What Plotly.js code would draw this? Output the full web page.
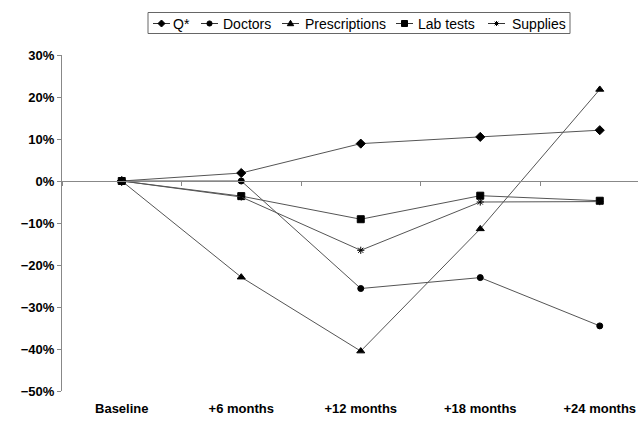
<!DOCTYPE html>
<html>
<head>
<meta charset="utf-8">
<script src="https://cdn.plot.ly/plotly-3.0.1.min.js"></script>
<style>html,body{margin:0;padding:0;background:#fff;}#chart{width:638px;height:421px;}</style>
</head>
<body>
<div id="chart"></div>
<script>
const categories = ["Baseline", "+6 months", "+12 months", "+18 months", "+24 months"];
const seriesNames = ["Q*", "Doctors", "Prescriptions", "Lab tests", "Supplies"];
const qStar = [0, 1.9, 8.9, 10.5, 12.1];
const doctors = [0, 0, -25.6, -23.0, -34.5];
const prescriptions = [0, -22.9, -40.5, -11.4, 21.8];
const labTests = [0, -3.6, -9.1, -3.5, -4.7];
const supplies = [0, -3.8, -16.5, -5.0, -4.9];
const yTickVals = [30, 20, 10, 0, -10, -20, -30, -40, -50];

const seriesValues = [qStar, doctors, prescriptions, labTests, supplies];
const symbols = ["diamond", "circle", "triangle-up", "square", "asterisk-open"];
const sizes = [7, 6, 7, 7, 6];

const traces = seriesValues.map((vals, i) => ({
  type: "scatter",
  mode: "lines+markers",
  name: seriesNames[i],
  x: categories,
  y: vals,
  showlegend: false,
  line: {color: "#555", width: 1},
  marker: {symbol: symbols[i], size: sizes[i], color: "#000", line: {color: "#000", width: 1}}
}));

// helper trace on a second x axis so its tick marks sit on the zero line
traces.push({
  type: "scatter", mode: "markers", x: categories, y: [0,0,0,0,0],
  xaxis: "x2", yaxis: "y", showlegend: false, hoverinfo: "skip",
  marker: {opacity: 0}
});

// ---- custom compact legend (Excel style) ----
const M = {l: 62, r: 0, t: 55, b: 30};
const W = 638, H = 421;
const pw = W - M.l - M.r, ph = H - M.t - M.b;
const px = x => (x - M.l) / pw;
const py = y => (H - M.b - y) / ph;

const legSymStart = [153, 201, 282, 396, 488];
const legTextStart = [173, 223, 305, 418, 512];
const legY = 23.5;
const shapes = [];
const annotations = [];
shapes.push({type: "rect", xref: "paper", yref: "paper", x0: px(148), x1: px(570), y0: py(12.5), y1: py(33.5),
  line: {color: "#666", width: 1}, fillcolor: "rgba(0,0,0,0)"});
const markerPaths = {
  "diamond": "M0,3.5 L3.5,0 L0,-3.5 L-3.5,0 Z",
  "triangle-up": "M-3.2,-2.2 L3.2,-2.2 L0,3.2 Z",
  "square": "M-3,-3 L3,-3 L3,3 L-3,3 Z",
  "asterisk-open": "M-2.5,0 L2.5,0 M0,-2.5 L0,2.5 M-1.8,-1.8 L1.8,1.8 M-1.8,1.8 L1.8,-1.8"
};
seriesNames.forEach((name, i) => {
  const x0 = legSymStart[i], x1 = x0 + 17, xm = (x0 + x1) / 2;
  shapes.push({type: "line", xref: "paper", yref: "paper", x0: px(x0), x1: px(x1), y0: py(legY), y1: py(legY),
    line: {color: "#333", width: 1}});
  const sym = symbols[i];
  if (sym === "circle") {
    shapes.push({type: "circle", xref: "paper", yref: "paper", xsizemode: "pixel", ysizemode: "pixel",
      xanchor: px(xm), yanchor: py(legY), x0: -2.6, x1: 2.6, y0: -2.6, y1: 2.6,
      line: {color: "#000", width: 1}, fillcolor: "#000"});
  } else {
    shapes.push({type: "path", xref: "paper", yref: "paper", xsizemode: "pixel", ysizemode: "pixel",
      xanchor: px(xm), yanchor: py(legY), path: markerPaths[sym],
      line: {color: "#000", width: 1}, fillcolor: sym === "asterisk-open" ? "rgba(0,0,0,0)" : "#000"});
  }
  annotations.push({xref: "paper", yref: "paper", x: px(legTextStart[i]), y: py(legY), xanchor: "left", yanchor: "middle",
    text: name, showarrow: false, font: {size: 14, color: "#000"}, xshift: -2});
});

const layout = {
  width: W, height: H,
  margin: M,
  paper_bgcolor: "#fff", plot_bgcolor: "#fff",
  font: {family: "Liberation Sans, Arial, sans-serif", color: "#000"},
  showlegend: false,
  shapes: shapes,
  annotations: annotations,
  xaxis: {
    type: "category", range: [-0.5, 4.32],
    showline: false, showgrid: false, zeroline: false, ticks: "",
    ticklabelstandoff: 8,
    tickfont: {size: 13, weight: "bold", color: "#000"}
  },
  xaxis2: {
    type: "category", range: [-0.5, 4.32], overlaying: "x", anchor: "free", position: 0.625,
    showline: true, linecolor: "#888", linewidth: 1, showgrid: false, zeroline: false,
    ticks: "outside", tickson: "boundaries", ticklen: 4, tickcolor: "#888",
    showticklabels: false
  },
  yaxis: {
    range: [-50, 30], tickvals: yTickVals, ticktext: yTickVals.map(v => (v < 0 ? "\u2212" + Math.abs(v) : v) + "%"),
    showline: true, linecolor: "#888", linewidth: 1, ticks: "outside", ticklen: 4, tickcolor: "#888",
    showgrid: false, zeroline: false,
    tickfont: {size: 13, weight: "bold", color: "#000"}
  }
};

Plotly.newPlot("chart", traces, layout, {displayModeBar: false, staticPlot: true});
</script>
</body>
</html>
